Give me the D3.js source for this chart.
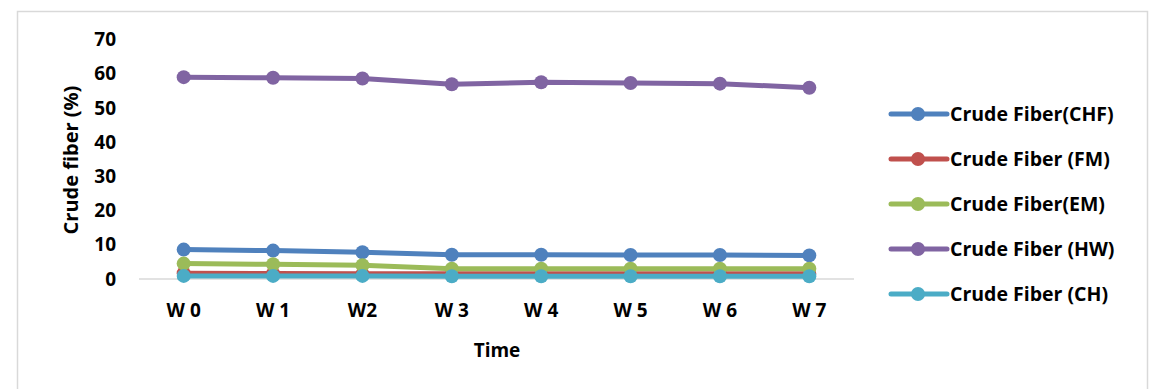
<!DOCTYPE html>
<html>
<head>
<meta charset="utf-8">
<script src="https://cdn.jsdelivr.net/npm/d3@7"></script>
<style>
  body { margin: 0; background: #fff; }
  text { font-family: "Open Sans", sans-serif; font-weight: bold; fill: #000; }
</style>
</head>
<body>
<div id="chart"></div>
<script>
var width = 1155,
    height = 389;

// data
var weeks = ['W 0', 'W 1', 'W2', 'W 3', 'W 4', 'W 5', 'W 6', 'W 7'];
var yTicks = [0, 10, 20, 30, 40, 50, 60, 70];
var seriesNames = ['Crude Fiber(CHF)', 'Crude Fiber (FM)', 'Crude Fiber(EM)', 'Crude Fiber (HW)', 'Crude Fiber (CH)'];
var seriesColors = ['#4f81bd', '#c0504d', '#9bbb59', '#8064a2', '#4bacc6'];
var chf = [8.6, 8.3, 7.8, 7.1, 7.1, 7.0, 7.0, 6.9];
var fm = [1.7, 1.6, 1.5, 1.5, 1.5, 1.5, 1.5, 1.5];
var em = [4.5, 4.3, 4.0, 3.0, 3.0, 3.0, 3.0, 3.0];
var hw = [59.0, 58.8, 58.6, 56.9, 57.5, 57.3, 57.1, 55.9];
var ch = [0.9, 0.9, 0.9, 0.8, 0.8, 0.8, 0.8, 0.8];
var seriesValues = [chf, fm, em, hw, ch];

var svg = d3.select('#chart').append('svg')
  .attr('width', width)
  .attr('height', height);

// outer frame
svg.append('rect')
  .attr('x', 17.5).attr('y', 11.5)
  .attr('width', 1130).attr('height', 400)
  .attr('fill', 'none')
  .attr('stroke', '#d9d9d9')
  .attr('stroke-width', 1.5);

var xScale = d3.scaleBand()
  .domain(weeks)
  .range([139, 854]);

var yScale = d3.scaleLinear()
  .domain([0, 70])
  .range([279, 39.5]);

// x axis line
svg.append('line')
  .attr('x1', 139).attr('x2', 854)
  .attr('y1', yScale(0)).attr('y2', yScale(0))
  .attr('stroke', '#d9d9d9')
  .attr('stroke-width', 1.5);

// y tick labels
svg.selectAll('.ytick')
  .data(yTicks)
  .enter()
  .append('text')
  .attr('class', 'ytick')
  .attr('x', 116)
  .attr('y', function(d) { return yScale(d); })
  .attr('dy', '0.35em')
  .attr('text-anchor', 'end')
  .style('font-size', '19px')
  .text(function(d) { return d; });

// x tick labels
svg.selectAll('.xtick')
  .data(weeks)
  .enter()
  .append('text')
  .attr('class', 'xtick')
  .attr('x', function(d) { return xScale(d) + xScale.bandwidth() / 2; })
  .attr('y', 317)
  .attr('text-anchor', 'middle')
  .style('font-size', '19px')
  .text(function(d) { return d; });

// axis titles
svg.append('text')
  .attr('transform', 'translate(78,160) rotate(-90)')
  .attr('text-anchor', 'middle')
  .style('font-size', '20px')
  .text('Crude fiber (%)');

svg.append('text')
  .attr('x', 497)
  .attr('y', 357)
  .attr('text-anchor', 'middle')
  .style('font-size', '19px')
  .text('Time');

var line = d3.line()
  .x(function(d, i) { return xScale(weeks[i]) + xScale.bandwidth() / 2; })
  .y(function(d) { return yScale(d); });

seriesValues.forEach(function(vals, s) {
  var g = svg.append('g');
  g.append('path')
    .datum(vals)
    .attr('d', line)
    .attr('fill', 'none')
    .attr('stroke', seriesColors[s])
    .attr('stroke-width', 5)
    .attr('stroke-linejoin', 'round');
  g.selectAll('circle')
    .data(vals)
    .enter()
    .append('circle')
    .attr('cx', function(d, i) { return xScale(weeks[i]) + xScale.bandwidth() / 2; })
    .attr('cy', function(d) { return yScale(d); })
    .attr('r', 7)
    .attr('fill', seriesColors[s]);
});

// legend
var legend = svg.selectAll('.legend')
  .data(seriesNames)
  .enter()
  .append('g')
  .attr('class', 'legend')
  .attr('transform', function(d, i) { return 'translate(0,' + (114 + i * 45) + ')'; });

legend.append('line')
  .attr('x1', 891).attr('x2', 947)
  .attr('y1', 0).attr('y2', 0)
  .attr('stroke', function(d, i) { return seriesColors[i]; })
  .attr('stroke-width', 5)
  .attr('stroke-linecap', 'round');

legend.append('circle')
  .attr('cx', 918).attr('cy', 0).attr('r', 7)
  .attr('fill', function(d, i) { return seriesColors[i]; });

legend.append('text')
  .attr('x', 950)
  .attr('y', 0)
  .attr('dy', '0.35em')
  .style('font-size', '19.5px')
  .text(function(d) { return d; });
</script>
</body>
</html>
